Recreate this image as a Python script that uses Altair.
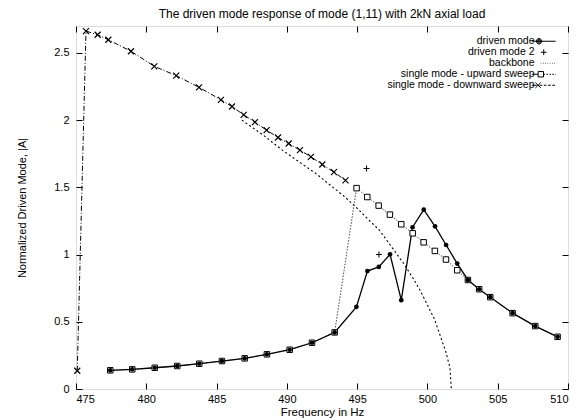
import altair as alt
import pandas as pd

SERIES = ["driven mode", "driven mode 2", "backbone",
          "single mode - upward sweep", "single mode - downward sweep"]

DRIVEN_F = [477.44, 479.00, 480.60, 482.20, 483.77, 485.38, 487.00, 488.58, 490.20,
            491.79, 493.40, 494.95, 495.73, 496.54, 497.34, 498.14, 498.94, 499.74,
            500.54, 501.33, 502.12, 502.88, 503.68, 504.47, 506.06, 507.67, 509.26]
DRIVEN_A = [0.139, 0.146, 0.158, 0.171, 0.188, 0.208, 0.228, 0.258, 0.292,
            0.344, 0.421, 0.611, 0.877, 0.908, 1.002, 0.661, 1.203, 1.334,
            1.210, 1.071, 0.933, 0.811, 0.742, 0.683, 0.564, 0.468, 0.388]

DRIVEN2_F = [495.67, 496.55]
DRIVEN2_A = [1.64, 1.00]

BACKBONE_F = [486.8, 488.3, 489.7, 491.0, 492.1, 493.1, 494.0, 494.9, 495.8, 496.6,
              497.5, 498.3, 499.0, 499.5, 500.0, 500.5, 501.0, 501.3, 501.6, 501.7]
BACKBONE_A = [2.00, 1.89, 1.775, 1.68, 1.60, 1.515, 1.44, 1.355, 1.26, 1.18,
              1.05, 0.935, 0.82, 0.73, 0.625, 0.52, 0.37, 0.28, 0.16, 0.0]

UP_F = [477.44, 479.00, 480.60, 482.20, 483.77, 485.38, 487.00, 488.58, 490.20,
        491.79, 493.40, 494.96, 495.72, 496.53, 497.33, 498.14, 498.95, 499.73,
        500.53, 501.32, 502.12, 502.88, 503.68, 504.47, 506.06, 507.67, 509.26]
UP_A = [0.139, 0.146, 0.158, 0.171, 0.188, 0.208, 0.228, 0.258, 0.292,
        0.344, 0.421, 1.494, 1.428, 1.364, 1.297, 1.225, 1.158, 1.091,
        1.027, 0.963, 0.883, 0.811, 0.742, 0.683, 0.564, 0.468, 0.388]

DOWN_F = [475.09, 475.71, 476.54, 477.30, 478.91, 480.57, 482.13, 483.75, 485.31,
          486.10, 486.93, 487.73, 488.56, 489.37, 490.13, 490.93, 491.71, 492.52,
          493.35, 494.17]
DOWN_A = [0.136, 2.662, 2.635, 2.598, 2.512, 2.400, 2.331, 2.244, 2.151,
          2.101, 2.039, 1.985, 1.925, 1.871, 1.826, 1.777, 1.727, 1.670,
          1.613, 1.552]

X_TICKS = [475, 480, 485, 490, 495, 500, 505, 510]
Y_TICKS = [0, 0.5, 1, 1.5, 2, 2.5]

TITLE = "The driven mode response of mode (1,11) with 2kN axial load"
X_TITLE = "Frequency in Hz"
Y_TITLE = "Normalized Driven Mode, |A|"
FONT = "Liberation Sans"

rows = []
for name, fs, as_ in [(SERIES[0], DRIVEN_F, DRIVEN_A), (SERIES[1], DRIVEN2_F, DRIVEN2_A),
                      (SERIES[2], BACKBONE_F, BACKBONE_A), (SERIES[3], UP_F, UP_A),
                      (SERIES[4], DOWN_F, DOWN_A)]:
    for i, (f, a) in enumerate(zip(fs, as_)):
        rows.append({"series": name, "f": f, "a": a, "idx": i})
df = pd.DataFrame(rows)
legend_df = pd.DataFrame({"series": SERIES})

xscale = alt.Scale(domain=[475, 510], nice=False, zero=False)
yscale = alt.Scale(domain=[0, 2.7], nice=False, zero=True)

ax_common = dict(offset=-6, tickSize=6, domain=False, grid=False, tickColor="black",
                 tickWidth=1, labelColor="black", labelFont=FONT, labelFontSize=11,
                 titleFont=FONT, titleFontWeight="normal", titleColor="black")
x_bottom = alt.Axis(orient="bottom", values=X_TICKS, labelPadding=4, titlePadding=2,
                    title=X_TITLE, titleFontSize=11.5, **ax_common)
y_left = alt.Axis(orient="left", values=Y_TICKS, labelPadding=7, titlePadding=26,
                  title=Y_TITLE, titleFontSize=11, labelExpr="'' + datum.value",
                  **ax_common)
x_top = alt.Axis(orient="top", values=X_TICKS, labels=False, title=None, **ax_common)
y_right = alt.Axis(orient="right", values=Y_TICKS, labels=False, title=None, **ax_common)


def enc(xaxis=None, yaxis=None):
    return dict(
        x=alt.X("f:Q", scale=xscale, axis=xaxis),
        y=alt.Y("a:Q", scale=yscale, axis=yaxis),
        order=alt.Order("idx:Q"),
    )


base = alt.Chart(df)

up_line = base.transform_filter(alt.datum.series == SERIES[3]).mark_line(
    color="#333333", strokeWidth=0.9, strokeDash=[1.5, 1.5]).encode(**enc(x_bottom, y_left))
down_line = base.transform_filter(alt.datum.series == SERIES[4]).mark_line(
    color="black", strokeWidth=1, strokeDash=[5, 2, 1, 2]).encode(**enc(x_top, y_right))
bb_line = base.transform_filter(alt.datum.series == SERIES[2]).mark_line(
    color="black", strokeWidth=1.1, strokeDash=[2, 2.5]).encode(**enc())
dr_line = base.transform_filter(alt.datum.series == SERIES[0]).mark_line(
    color="black", strokeWidth=1.3).encode(**enc())

up_pts = base.transform_filter(alt.datum.series == SERIES[3]).mark_point(
    shape="square", size=30, filled=True, fill="white", stroke="black",
    strokeWidth=1, opacity=1).encode(**enc())
down_pts = base.transform_filter(alt.datum.series == SERIES[4]).mark_point(
    shape="M-1,-1L1,1M1,-1L-1,1", size=36, filled=False, color="black",
    strokeWidth=1.2, opacity=1).encode(**enc())
dr_pts = base.transform_filter(alt.datum.series == SERIES[0]).mark_point(
    shape="circle", size=22, filled=True, color="black", opacity=1).encode(**enc())
dr2_pts = base.transform_filter(alt.datum.series == SERIES[1]).mark_point(
    shape="M-1,0H1M0,-1V1", size=36, filled=False, color="black",
    strokeWidth=1, opacity=1).encode(**enc())


# legend symbol paths (line sample with marker), unit = sqrt(size)/2 = 4.5 px,
# drawn to the right of the symbol anchor so the labels sit on their left
def dashed(x0, x1, on, off):
    parts = []
    x = x0
    while x < x1:
        e = min(x + on, x1)
        parts.append(f"M{x:.2f},0H{e:.2f}")
        x = e + off
    return "".join(parts)


def circ(cx, r):
    return f"M{cx - r:.2f},0A{r},{r} 0 1,0 {cx + r:.2f},0A{r},{r} 0 1,0 {cx - r:.2f},0"


SH = 0.67
X0, X1 = -0.1 + SH, 5.2 + SH
H = 0.6
MD, MP, MS, MX = 1.5 + SH, 2.55 + SH, 1.9 + SH, 1.3 + SH
sym_driven = f"M{X0:.2f},0H{X1:.2f}" + circ(MD, 0.6) + circ(MD, 0.4) + circ(MD, 0.2)
sym_driven2 = f"M{MP - 0.65:.2f},0H{MP + 0.65:.2f}M{MP:.2f},-0.65V0.65"
sym_bb = dashed(1.9 + SH, X1, 0.12, 0.38)
sym_up = (f"M{X0:.2f},0H{MS - H:.2f}"
          + f"M{MS - H:.2f},{-H}H{MS + H:.2f}V{H}H{MS - H:.2f}Z"
          + dashed(MS + H, X1, 0.35, 0.3))
sym_down = (f"M{MX - H:.2f},{-H}L{MX + H:.2f},{H}M{MX + H:.2f},{-H}L{MX - H:.2f},{H}"
            + f"M{X0:.2f},0H{MX - 0.3:.2f}" + dashed(MX + 0.3, X1, 0.6, 0.35))

legend_layer = alt.Chart(legend_df).mark_point(
    filled=False, opacity=0, color="black", size=81, strokeWidth=1).encode(
    shape=alt.Shape(
        "series:N",
        scale=alt.Scale(domain=SERIES,
                        range=[sym_driven, sym_driven2, sym_bb, sym_up, sym_down]),
        legend=alt.Legend(
            title=None, orient="none", legendX=448, legendY=10, padding=0,
            labelAlign="right", labelOffset=0, symbolOffset=0, symbolSize=81,
            symbolStrokeWidth=1, symbolStrokeColor="black", symbolOpacity=1,
            symbolFillColor="transparent",
            labelFont=FONT, labelFontSize=10.5, labelColor="black",
            rowPadding=0, labelLimit=300),
    )
)

chart = alt.layer(
    up_line, down_line, bb_line, dr_line,
    up_pts, down_pts, dr_pts, dr2_pts, legend_layer,
).resolve_axis(x="independent", y="independent").properties(
    width=492, height=363,
    title=alt.TitleParams(TITLE, font=FONT, fontSize=12, fontWeight="normal",
                          anchor="middle", offset=5, color="black"),
    autosize=alt.AutoSizeParams(type="none"),
    padding={"left": 76, "top": 26, "right": 11, "bottom": 31},
).configure_view(stroke="black", strokeWidth=1.3).configure(background="white")

chart.save("out.html", embed_options={"renderer": "svg", "actions": False})
